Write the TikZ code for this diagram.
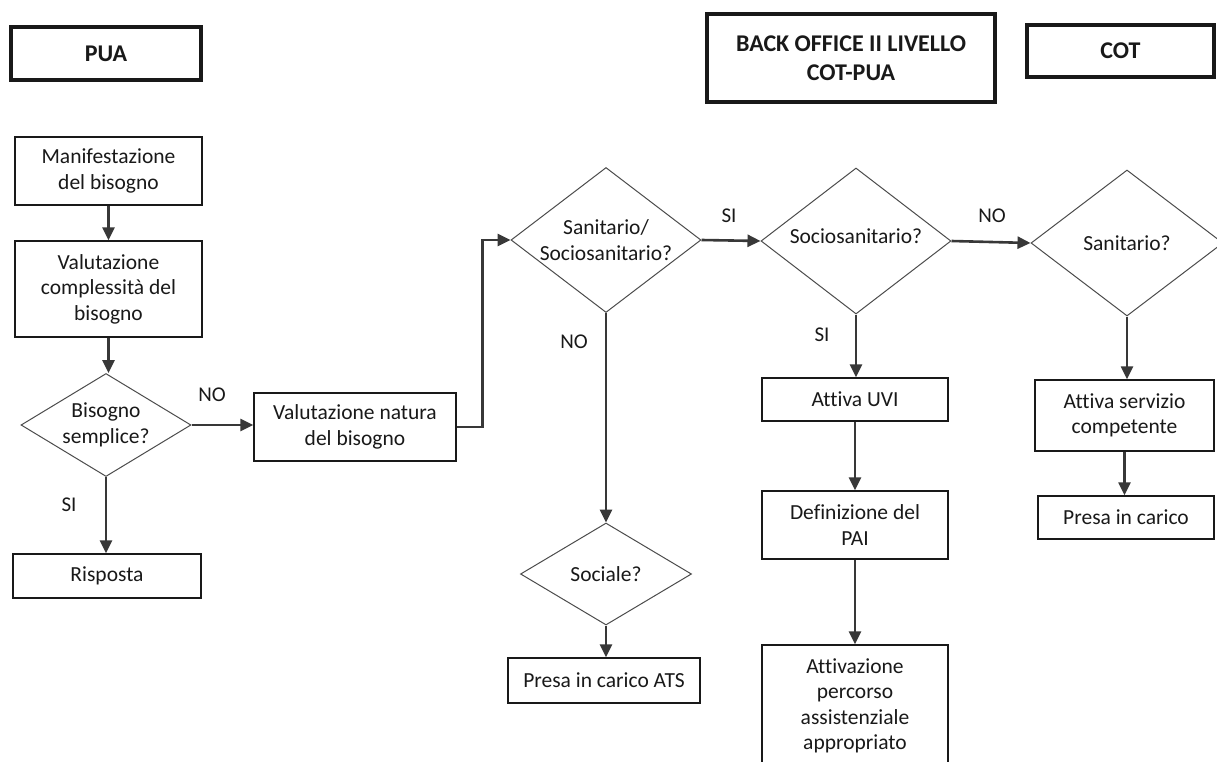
\documentclass[tikz,border=0pt]{standalone}
\usepackage{fontspec}
\setmainfont{Carlito}[Ligatures={NoCommon}]
\usetikzlibrary{arrows.meta,shapes.geometric}
\begin{document}
\begin{tikzpicture}[x=1pt,y=-1pt,
  every node/.style={font=\fontsize{21.5}{25.5}\selectfont, align=center, text=black!90},
  box/.style={draw=black!90, line width=1.5pt, inner sep=0pt, rectangle},
  hdr/.style={draw=black!90, line width=3.2pt, inner sep=0pt, rectangle, font=\fontsize{24}{29}\selectfont\bfseries},
  dec/.style={draw=black!70, line width=1pt, diamond, inner sep=0pt},
  arr/.style={draw=black!78, line width=2.6pt, -{Triangle[length=13pt,width=12pt]}},
  lbl/.style={font=\fontsize{21}{24}\selectfont}
]
\useasboundingbox (0,0) rectangle (1217,762);
\fill[white] (0,0) rectangle (1217,762);

% headers
\node[hdr, minimum width=190pt, minimum height=53pt] (pua) at (106,53.5) {PUA};
\node[hdr, minimum width=288pt, minimum height=88pt] (back) at (851,58) {BACK OFFICE II LIVELLO\\COT-PUA};
\node[hdr, minimum width=187pt, minimum height=52pt] (cot) at (1120.5,51) {COT};

% PUA column
\node[box, minimum width=187pt, minimum height=68pt] (manif) at (108.5,171) {Manifestazione\\del bisogno};
\node[box, minimum width=187pt, minimum height=96pt] (valc) at (108.5,289) {Valutazione\\complessità del\\bisogno};
\node[dec, minimum width=170pt, minimum height=103pt, label={center:Bisogno\\semplice?}] (bis) at (106,425) {};
\node[box, minimum width=188pt, minimum height=44pt] (risp) at (107,576) {Risposta};
\node[box, minimum width=202pt, minimum height=68pt] (valn) at (355,427) {Valutazione natura\\del bisogno};

% back office column
\node[dec, minimum width=190pt, minimum height=145pt, label={center:Sanitario/\\Sociosanitario?}] (d1) at (606,240) {};
\node[dec, minimum width=171pt, minimum height=102pt, label={center:Sociale?}] (soc) at (606,574) {};
\node[box, minimum width=192pt, minimum height=45pt] (ats) at (604,680.5) {Presa in carico ATS};
\node[dec, minimum width=190pt, minimum height=146pt, label={[yshift=5pt]center:Sociosanitario?}] (d2) at (856,241) {};
\node[box, minimum width=186pt, minimum height=43pt] (uvi) at (855,399.5) {Attiva UVI};
\node[box, minimum width=186pt, minimum height=68pt] (pai) at (855,525) {Definizione del\\PAI};
\node[box, minimum width=186pt, minimum height=122pt] (attiv) at (855,706) {Attivazione\\percorso\\assistenziale\\appropriato};

% COT column
\node[dec, minimum width=192pt, minimum height=146pt, label={center:Sanitario?}] (d3) at (1127,243) {};
\node[box, minimum width=179pt, minimum height=71pt] (serv) at (1124.5,415.5) {Attiva servizio\\competente};
\node[box, minimum width=176pt, minimum height=43pt] (presa) at (1126,517.5) {Presa in carico};

% connectors
\draw[arr] (manif.south) -- (manif.south |- valc.north);
\draw[arr] (valc.south) -- (valc.south |- bis.north);
\draw[arr] (bis.east) -- (bis.east -| valn.west);
\draw[arr] (bis.south) -- (bis.south |- risp.north);
\draw[arr] (valn.east) -- ++(26,0) |- (d1.west);
\draw[arr] (d1.east) -- (d2.west);
\draw[arr] (d2.east) -- (d3.west);
\draw[arr] (d1.south) -- (soc.north);
\draw[arr] (soc.south) -- (soc.south |- ats.north);
\draw[arr] (d2.south) -- (d2.south |- uvi.north);
\draw[arr] (uvi.south) -- (uvi.south |- pai.north);
\draw[arr] (pai.south) -- (pai.south |- attiv.north);
\draw[arr] (d3.south) -- (d3.south |- serv.north);
\draw[arr] (serv.south) -- (serv.south |- presa.north);

% labels
\node[lbl] (lno1) at (212,395) {NO};
\node[lbl] (lsi1) at (69,505) {SI};
\node[lbl] (lsi2) at (729,216) {SI};
\node[lbl] (lno2) at (992,216) {NO};
\node[lbl] (lno3) at (574,342) {NO};
\node[lbl] (lsi3) at (822,335) {SI};
\end{tikzpicture}
\end{document}
